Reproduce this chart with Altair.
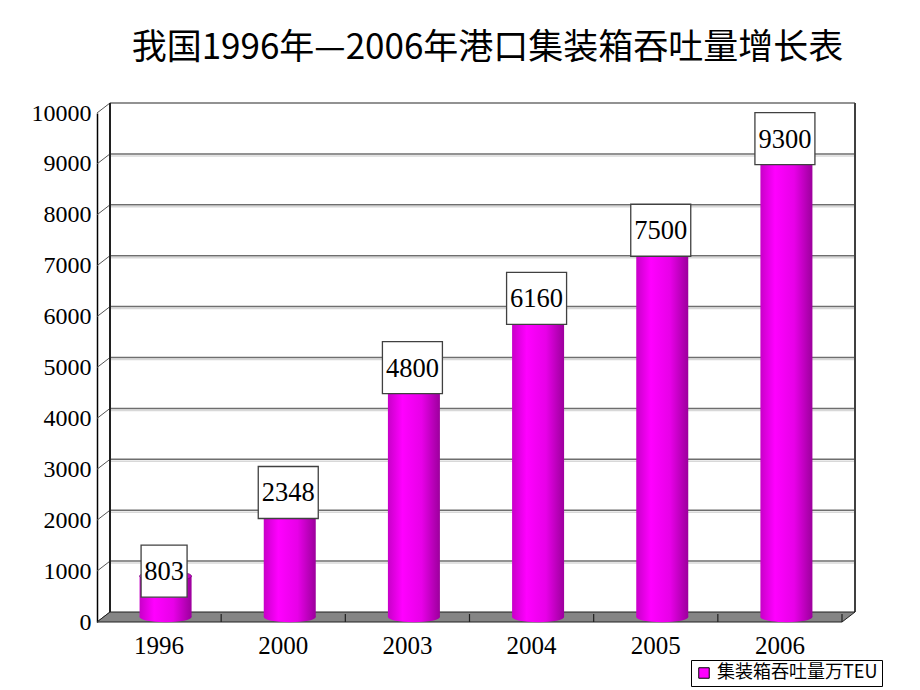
import altair as alt
import pandas as pd

# ---- data ----
years = ["1996", "2000", "2003", "2004", "2005", "2006"]
values = [803, 2348, 4800, 6160, 7500, 9300]
y_ticks = [0, 1000, 2000, 3000, 4000, 5000, 6000, 7000, 8000, 9000, 10000]
series_name = "集装箱吞吐量万TEU"
title_text = "我国1996年—2006年港口集装箱吞吐量增长表"

# ---- geometry / style ----
W, H = 745, 509          # front plane of the plot
DX, DY = 13, -10         # 3D depth shift (back wall)
BAR_W = 52
MAG = "#FF00FF"

df = pd.DataFrame({"year": years, "value": values})
df["label"] = df["value"].astype(str)
df["digits"] = df["label"].str.len()
df["series"] = series_name
grid = pd.DataFrame({"tick": y_ticks})

xs = alt.Scale(domain=years, paddingInner=0, paddingOuter=0)
ys = alt.Scale(domain=[0, 10000], nice=False, zero=True)

Xn = alt.X("year:N", scale=xs, axis=None)
Yn = alt.Y("value:Q", scale=ys, axis=None)

bar_grad = alt.Gradient(
    gradient="linear", x1=0, x2=1, y1=0, y2=0,
    stops=[alt.GradientStop(color="#C800C8", offset=0),
           alt.GradientStop(color="#FF00FF", offset=0.28),
           alt.GradientStop(color="#E800E8", offset=0.65),
           alt.GradientStop(color="#9C009C", offset=1)])
top_grad = alt.Gradient(
    gradient="linear", x1=0, x2=1, y1=0, y2=0,
    stops=[alt.GradientStop(color="#E040E0", offset=0),
           alt.GradientStop(color="#FF60FF", offset=0.35),
           alt.GradientStop(color="#C000C0", offset=1)])

# ---- 3D frame (pixel decoration) ----
fpx = pd.DataFrame({"px": [0, DX, W, W + DX],
                    "top": [H, H + DY, H + DY, H + DY],
                    "bot": [H, H, H, H + DY]})
floor = alt.Chart(fpx).mark_area(fill="#858585", stroke="#202020", strokeWidth=1).encode(
    x=alt.X("px:Q", scale=None, axis=None),
    y=alt.Y("top:Q", scale=None, axis=None),
    y2="bot:Q")

backwall = alt.Chart(fpx).mark_rect(fill="white").encode(
    x=alt.value(DX), x2=alt.value(W + DX), y=alt.value(DY), y2=alt.value(H + DY))

grid_shadow = alt.Chart(grid).transform_filter("datum.tick > 0 && datum.tick < 10000").mark_rule(
    color="#D8D8D8", strokeWidth=1.5, yOffset=DY + 2).encode(
    y=alt.Y("tick:Q", scale=ys, axis=None), x=alt.value(DX), x2=alt.value(W + DX))
grid_lines = alt.Chart(grid).transform_filter("datum.tick > 0").mark_rule(
    color="#6E6E6E", strokeWidth=1.5, yOffset=DY).encode(
    y=alt.Y("tick:Q", scale=ys, axis=None), x=alt.value(DX), x2=alt.value(W + DX))
side_lines = alt.Chart(grid).mark_rule(color="#555555", strokeWidth=1, y2Offset=DY).encode(
    y=alt.Y("tick:Q", scale=ys, axis=None), y2="tick:Q", x=alt.value(0), x2=alt.value(DX))
wall_left = alt.Chart(grid).mark_rule(color="#202020", strokeWidth=1.5).encode(
    x=alt.value(DX), y=alt.value(DY), y2=alt.value(H + DY))
wall_right = alt.Chart(grid).mark_rule(color="#404040", strokeWidth=1.5).encode(
    x=alt.value(W + DX), y=alt.value(DY), y2=alt.value(H + DY))

floor_ticks = alt.Chart(df).mark_rule(color="#202020", strokeWidth=1.2).encode(
    x=alt.X("year:N", scale=xs, bandPosition=1, axis=None),
    y=alt.value(H), y2=alt.value(H + DY + 2))

# ---- bars (cylinders) ----
bars = alt.Chart(df).mark_bar(width=BAR_W, xOffset=6.5, yOffset=-5, y2Offset=-5,
                              fill=bar_grad, stroke=None).encode(
    x=alt.X("year:N", scale=xs,
            axis=alt.Axis(title=None, labelAngle=0, domain=False, ticks=False,
                          labelFont="Liberation Serif", labelFontSize=25,
                          labelColor="black", labelPadding=11)),
    y=alt.Y("value:Q", scale=ys,
            axis=alt.Axis(title=None, values=y_ticks, format="d", grid=False, ticks=False,
                          domain=True, domainColor="black", domainWidth=1.5,
                          labelFont="Liberation Serif", labelFontSize=24,
                          labelColor="black", labelPadding=6)))

bottom_path = "M -1 -0.02 L -1 0 A 1 0.2 0 0 0 1 0 L 1 -0.02 Z"
bar_bottom = alt.Chart(df).mark_point(shape=bottom_path, size=BAR_W ** 2, filled=True,
                                      fill=bar_grad, opacity=1, strokeWidth=0,
                                      xOffset=6.5, yOffset=-5).encode(
    x=Xn, y=alt.value(H))

top_path = "M -1 0 A 1 0.2 0 1 0 1 0 A 1 0.2 0 1 0 -1 0 Z"
bar_top = alt.Chart(df).mark_point(shape=top_path, size=BAR_W ** 2, filled=True,
                                   fill=top_grad, opacity=1, stroke="#700070",
                                   strokeWidth=0.8, xOffset=6.5, yOffset=-5).encode(
    x=Xn, y=Yn)

# ---- value label boxes ----
box4 = alt.Chart(df).transform_filter("datum.digits >= 4").mark_bar(
    width=60, xOffset=5, yOffset=DY - 26, y2Offset=DY + 26,
    fill="white", stroke="#404040", strokeWidth=1.3).encode(
    x=Xn, y=Yn, y2="value:Q")
box3 = alt.Chart(df).transform_filter("datum.digits < 4").mark_bar(
    width=46, xOffset=5, yOffset=DY - 26, y2Offset=DY + 26,
    fill="white", stroke="#404040", strokeWidth=1.3).encode(
    x=Xn, y=Yn, y2="value:Q")
labels = alt.Chart(df).mark_text(font="Liberation Serif", fontSize=26.5, color="black",
                                 baseline="middle", align="center",
                                 xOffset=5, yOffset=DY + 1).encode(
    x=Xn, y=Yn, text="label:N")

# ---- legend ----
legend_layer = alt.Chart(df).mark_point(shape="square", filled=True, opacity=0).encode(
    x=Xn, y=Yn,
    color=alt.Color("series:N", scale=alt.Scale(domain=[series_name], range=[MAG]),
                    legend=alt.Legend(title=None, orient="none", legendX=594, legendY=547,
                                      strokeColor="black", fillColor="white", padding=4,
                                      symbolType="square", symbolSize=110,
                                      symbolOpacity=1, symbolStrokeColor="black",
                                      symbolStrokeWidth=1, symbolFillColor=MAG,
                                      labelFont="Noto Sans CJK SC", labelFontSize=18,
                                      labelColor="black", labelLimit=400)))

chart = alt.layer(
    backwall, grid_shadow, grid_lines, side_lines, wall_left, wall_right,
    floor, floor_ticks, bars, bar_bottom, bar_top, box4, box3, labels, legend_layer
).resolve_scale(x="independent", y="independent").properties(
    width=W, height=H,
    title=alt.TitleParams(title_text, font="Noto Sans CJK SC", fontSize=35,
                          fontWeight="normal", color="black", anchor="middle",
                          frame="group", dx=18, offset=35),
    autosize=alt.AutoSizeParams(type="none"),
    padding={"left": 97, "top": 113, "right": 920 - 97 - W, "bottom": 690 - 113 - H},
    background="white",
).configure_view(stroke=None)

chart.save("out.html", embed_options={"renderer": "svg", "actions": False})
